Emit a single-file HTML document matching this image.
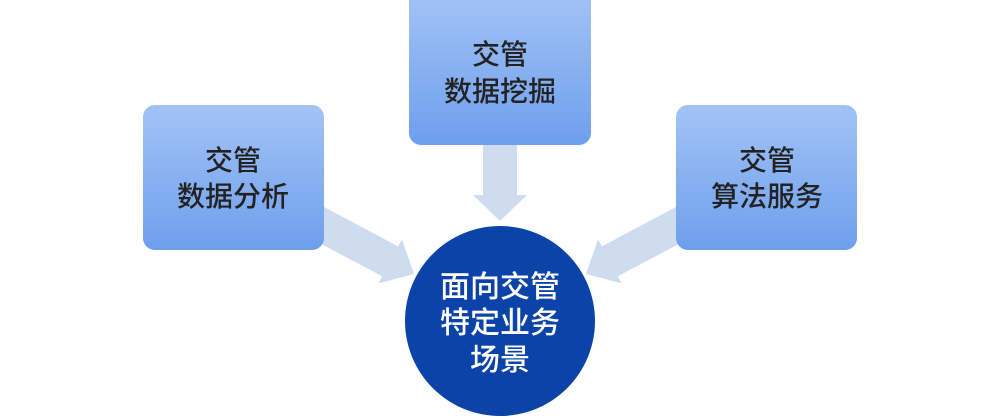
<!DOCTYPE html>
<html><head><meta charset="utf-8"><style>
html,body{margin:0;padding:0;background:#fff;width:1000px;height:418px;overflow:hidden}
text{font-family:"Liberation Sans","Noto Sans CJK SC",sans-serif}
</style></head><body>
<svg width="1000" height="418" viewBox="0 0 1000 418" xmlns="http://www.w3.org/2000/svg">
<defs>
<linearGradient id="g" x1="0" y1="0" x2="0" y2="1">
<stop offset="0" stop-color="#a3c3f5"/><stop offset="1" stop-color="#6e9fed"/>
</linearGradient>
</defs>
<g fill="#cfdcef">
<polygon points="483,145 517,145 517,195 527,195 500,221 473,195 483,195"/>
<g transform="translate(414,274) rotate(28)">
<polygon points="-130,-17 -27,-17 -27,-25 0,0 -27,25 -27,17 -130,17"/>
</g>
<g transform="translate(1000,0) scale(-1,1)">
<g transform="translate(414,274) rotate(28)">
<polygon points="-130,-17 -27,-17 -27,-25 0,0 -27,25 -27,17 -130,17"/>
</g>
</g>
</g>
<rect x="143" y="105" width="181" height="145" rx="12" fill="url(#g)"/>
<rect x="409" y="-10" width="182" height="155" rx="12" fill="url(#g)"/>
<rect x="676" y="105" width="181" height="145" rx="12" fill="url(#g)"/>
<g fill="#222" font-size="28" font-weight="500" text-anchor="middle">
<text x="233" y="170">交管</text><text x="233" y="206">数据分析</text>
<text x="500" y="64">交管</text><text x="500" y="101">数据挖掘</text>
<text x="767" y="170">交管</text><text x="767" y="206">算法服务</text>
</g>
<circle cx="500" cy="321" r="95" fill="#0b43a8"/>
<g fill="#fff" font-size="30" font-weight="500" text-anchor="middle">
<text x="500" y="297">面向交管</text>
<text x="500" y="333">特定业务</text>
<text x="500" y="370">场景</text>
</g>
</svg>
</body></html>
